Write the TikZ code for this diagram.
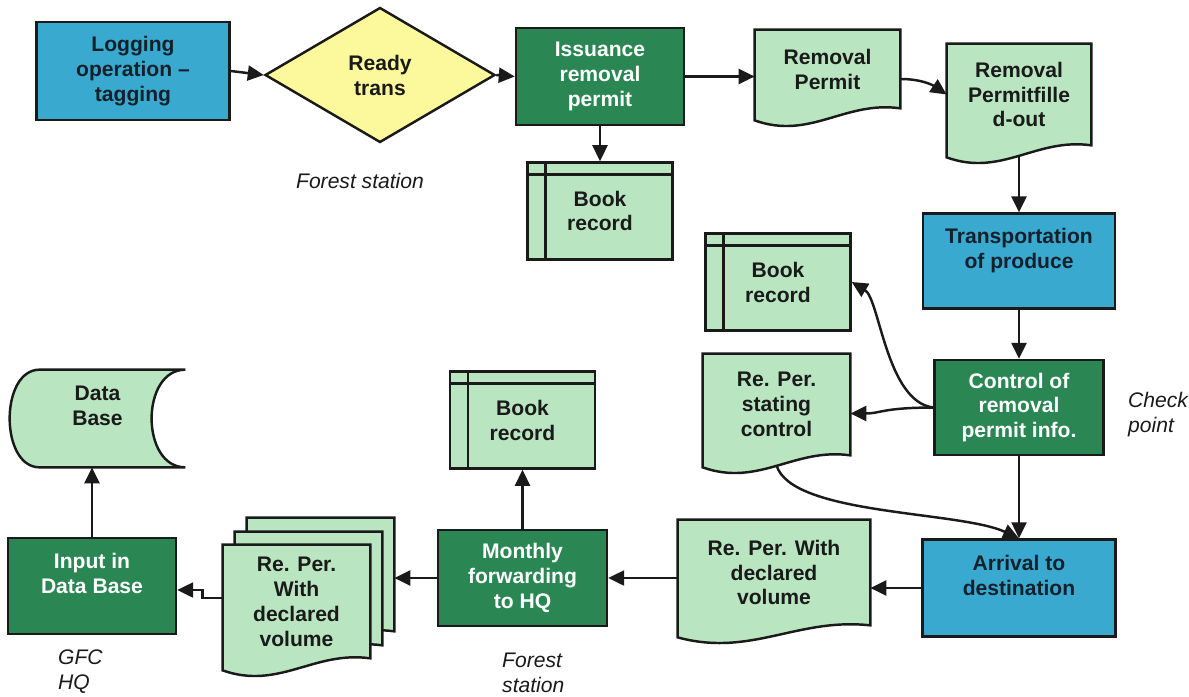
\documentclass[tikz,border=0pt]{standalone}
\usepackage{fontspec}
\setmainfont{Liberation Sans}
\usepackage{tikz}
\usetikzlibrary{shapes.geometric,arrows.meta,positioning,backgrounds,calc}
\definecolor{gfcblue}{HTML}{3AA9D0}
\definecolor{gfcgreen}{HTML}{2A8753}
\definecolor{gfclight}{HTML}{B9E6C1}
\definecolor{gfcyellow}{HTML}{FBF99C}
\definecolor{gfcink}{HTML}{1A1A1A}
\definecolor{gfcnavy}{HTML}{14212B}
\newcommand{\boxfont}{\fontsize{12}{14.2}\selectfont\bfseries}
\newcommand{\notefont}{\fontsize{12}{14.2}\selectfont\itshape}
% document symbol: body is the node, the wave hangs below it
\newcommand{\docoutline}[1]{%
  \draw[docline] (#1.north west) -- (#1.north east) -- (#1.south east)
    .. controls ($(#1.south east)!0.38!(#1.south west)+(0,0.16)$)
    and ($(#1.south east)!0.62!(#1.south west)+(0,-0.64)$)
    .. ([yshift=-0.24cm]#1.south west) -- cycle;}
% stored data symbol
\newcommand{\storeoutline}[1]{%
  \draw[docline] ([xshift=0.6cm]#1.north west) -- (#1.north east)
    .. controls ([xshift=-0.9cm]#1.north east) and ([xshift=-0.9cm]#1.south east) .. (#1.south east)
    -- ([xshift=0.6cm]#1.south west)
    .. controls ([xshift=-0.2cm]#1.south west) and ([xshift=-0.2cm]#1.north west) .. ([xshift=0.6cm]#1.north west) -- cycle;}
\tikzset{
  procblue/.style={rectangle, draw=gfcink, line width=1.4pt, fill=gfcblue,
                   text=gfcnavy, align=center, font=\boxfont,
                   minimum width=3.86cm, minimum height=1.92cm},
  procgreen/.style={rectangle, draw=gfcink, line width=1.4pt, fill=gfcgreen,
                    text=white, align=center, font=\boxfont,
                    minimum width=3.36cm, minimum height=1.92cm},
  decision/.style={diamond, aspect=1.7, draw=gfcink, line width=1.4pt,
                   fill=gfcyellow, text=gfcink, align=center, font=\boxfont,
                   minimum width=4.6cm, minimum height=2.7cm, inner sep=0pt},
  book/.style={rectangle, draw=gfcink, line width=1.4pt, fill=gfclight,
               text=gfcink, align=center, font=\boxfont,
               minimum width=2.9cm, minimum height=1.94cm,
               path picture={
                 \draw[line width=1.4pt] ([yshift=-0.24cm]path picture bounding box.north west)
                   -- ([yshift=-0.24cm]path picture bounding box.north east);
                 \draw[line width=1.4pt] ([xshift=0.36cm]path picture bounding box.north west)
                   -- ([xshift=0.36cm]path picture bounding box.south west);}},
  docnode/.style={rectangle, text=gfcink, align=center, font=\boxfont,
                  minimum width=2.9cm, minimum height=1.56cm},
  docline/.style={draw=gfcink, line width=1.4pt, fill=gfclight},
  note/.style={font=\notefont, text=gfcink, align=left},
  arrow/.style={-{Triangle[length=3.2mm,width=3mm]}, line width=1.4pt, color=gfcink},
}

\begin{document}
\begin{tikzpicture}
\useasboundingbox (0,0) rectangle (23.78,-13.94);

\node[procblue, minimum height=1.96cm] (logging) at (2.66,-1.42) {Logging\\operation --\\tagging};
\node[decision] (ready) at (7.6,-1.5) {Ready\\trans};
\node[procgreen, minimum height=1.94cm] (issue) at (12.0,-1.53) {Issuance\\removal\\permit};
\node[docnode] (rperm) at (16.55,-1.38) {Removal\\Permit};
\node[docnode, minimum width=2.88cm, minimum height=2.02cm] (fille) at (20.38,-1.89) {Removal\\Permitfille\\d-out};
\node[book, below=0.7cm of issue] (booktop) {Book\\record};

\node[procblue, minimum width=3.84cm, minimum height=1.9cm, below=1.34cm of fille] (transport) {Transportation\\of produce\\\mbox{}};
\node[procgreen, minimum width=3.38cm, minimum height=1.9cm, below=0.98cm of transport] (ctrl) {Control of\\removal\\permit info.};
\node[procblue, minimum height=1.94cm, below=1.64cm of ctrl] (arrive) {Arrival to\\destination\\\mbox{}};

\node[book] (bookmid) at (15.56,-5.64) {Book\\record};
\node[docnode, minimum width=2.94cm, minimum height=2.02cm] (rstat) at (15.53,-8.09) {Re. Per.\\stating\\control};
\node[docnode, minimum width=3.84cm, minimum height=2.1cm] (rwith) at (15.48,-11.45) {Re. Per. With\\declared\\volume};

\node[procgreen, minimum width=3.38cm] (month) at (10.45,-11.56) {Monthly\\forwarding\\to HQ};
\node[book, above=1.18cm of month] (bookbot) {Book\\record};

\node[docnode, minimum width=2.94cm, minimum height=2.26cm] (multiback) at (6.41,-11.49) {};
\node[docnode, minimum width=2.94cm, minimum height=2.26cm] (multimid) at (6.17,-11.77) {};
\node[docnode, minimum width=2.94cm, minimum height=2.26cm] (multi) at (5.93,-12.03) {Re. Per.\\With\\declared\\volume};

\node[procgreen] (input) at (1.84,-11.72) {Input in\\Data Base\\\mbox{}};
\node[docnode, minimum width=3.5cm, minimum height=1.94cm] (dbase) at (1.95,-8.37) {Data\\Base\\\mbox{}};

\node[note, align=center] (fstation) at (7.2,-3.62) {Forest station};
\node[note, anchor=west] (checkpt) at (22.44,-8.3) {Check\\point};
\node[note, anchor=west] (fstation2) at (9.92,-13.45) {Forest\\station};
\node[note, anchor=west] (gfchq) at (1.04,-13.43) {GFC\\HQ};

\begin{scope}[on background layer]
  \docoutline{rperm}
  \docoutline{fille}
  \docoutline{rstat}
  \docoutline{rwith}
  \docoutline{multiback}
  \docoutline{multimid}
  \docoutline{multi}
  \storeoutline{dbase}
\end{scope}

\draw[arrow] (logging.east) -- (ready.west);
\draw[arrow] (ready.east) -- (issue.west);
\draw[arrow] (issue.east) -- (rperm.west |- issue.east);
\draw[arrow] (issue) -- (booktop);
\draw[arrow] ([yshift=-0.2cm]rperm.east) .. controls +(0.4,0) and +(-0.3,0.2) .. (fille.west);
\draw[arrow] ([yshift=-0.2cm]fille.south) -- (transport);
\draw[arrow] (transport) -- (ctrl);
\draw[arrow] (ctrl) -- (arrive);
\draw[arrow] (ctrl.west) .. controls +(-0.94,0.12) and +(0.56,-0.34) .. (bookmid.east);
\draw[arrow] (ctrl.west) .. controls +(-1,0) and +(0.6,0) .. ([yshift=-0.18cm]rstat.east);
\draw[arrow] ([yshift=-0.2cm]rstat.south) .. controls +(0.3,-1.0) and +(-1.2,0.55) .. (arrive.north);
\draw[arrow] (arrive.west) -- (arrive.west -| rwith.east);
\draw[arrow] (rwith.west |- month.east) -- (month.east);
\draw[arrow] (month) -- (bookbot);
\draw[arrow] (month.west) -- (month.west -| multiback.east);
\draw[arrow] ([yshift=0.07cm]multi.west) -- ++(-0.4,0) |- ([yshift=-0.08cm]input.east);
\draw[arrow] (input.north) -- (input.north |- dbase.south);
\end{tikzpicture}
\end{document}
